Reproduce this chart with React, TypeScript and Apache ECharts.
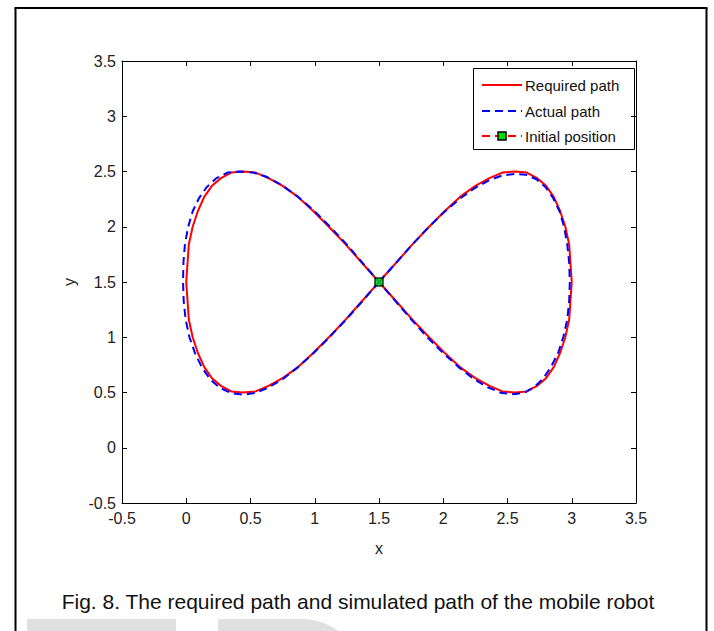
import React, { useEffect, useRef } from "react";
import * as echarts from "echarts";

// Axis range and ticks (both axes share the same scale)
const axisMin = -0.5;
const axisMax = 3.5;
const tickStep = 0.5;

// Required figure-eight path, [x, y]
const requiredPath: [number, number][] = [
  [1.5, 1.5], [1.63, 1.67], [1.76, 1.84], [1.89, 2.0], [2.01, 2.14], [2.13, 2.27],
  [2.25, 2.37], [2.36, 2.44], [2.46, 2.49], [2.56, 2.5], [2.65, 2.49], [2.73, 2.44],
  [2.8, 2.37], [2.86, 2.27], [2.91, 2.14], [2.95, 2.0], [2.98, 1.84], [2.99, 1.67],
  [3.0, 1.5], [2.99, 1.33], [2.98, 1.16], [2.95, 1.0], [2.91, 0.86], [2.86, 0.73],
  [2.8, 0.63], [2.73, 0.56], [2.65, 0.51], [2.56, 0.5], [2.46, 0.51], [2.36, 0.56],
  [2.25, 0.63], [2.13, 0.73], [2.01, 0.86], [1.89, 1.0], [1.76, 1.16], [1.63, 1.33],
  [1.5, 1.5], [1.37, 1.67], [1.24, 1.84], [1.11, 2.0], [0.99, 2.14], [0.87, 2.27],
  [0.75, 2.37], [0.64, 2.44], [0.54, 2.49], [0.44, 2.5], [0.35, 2.49], [0.27, 2.44],
  [0.2, 2.37], [0.14, 2.27], [0.09, 2.14], [0.05, 2.0], [0.02, 1.84], [0.01, 1.67],
  [0.0, 1.5], [0.01, 1.33], [0.02, 1.16], [0.05, 1.0], [0.09, 0.86], [0.14, 0.73],
  [0.2, 0.63], [0.27, 0.56], [0.35, 0.51], [0.44, 0.5], [0.54, 0.51], [0.64, 0.56],
  [0.75, 0.63], [0.87, 0.73], [0.99, 0.86], [1.11, 1.0], [1.24, 1.16], [1.37, 1.33],
  [1.5, 1.5],
];

// Actual path travelled by the robot, [x, y]
const actualPath: [number, number][] = [
  [1.5, 1.5], [1.63, 1.67], [1.76, 1.84], [1.885, 1.995], [2.01, 2.135], [2.13, 2.255],
  [2.245, 2.35], [2.355, 2.42], [2.46, 2.465], [2.555, 2.478], [2.645, 2.47], [2.725, 2.43],
  [2.795, 2.36], [2.855, 2.26], [2.905, 2.14], [2.94, 2.0], [2.965, 1.84], [2.98, 1.675],
  [2.985, 1.5], [2.98, 1.33], [2.965, 1.16], [2.935, 1.005], [2.895, 0.86], [2.84, 0.735],
  [2.78, 0.63], [2.71, 0.55], [2.635, 0.5], [2.55, 0.485], [2.455, 0.495], [2.35, 0.545],
  [2.24, 0.62], [2.125, 0.725], [2.005, 0.85], [1.88, 0.995], [1.755, 1.155], [1.63, 1.325],
  [1.5, 1.5], [1.37, 1.675], [1.245, 1.845], [1.115, 2.005], [0.99, 2.15], [0.865, 2.275],
  [0.745, 2.375], [0.63, 2.45], [0.52, 2.49], [0.415, 2.5], [0.32, 2.49], [0.235, 2.44],
  [0.16, 2.36], [0.1, 2.26], [0.05, 2.14], [0.015, 2.0], [-0.01, 1.845], [-0.022, 1.675],
  [-0.025, 1.5], [-0.02, 1.33], [-0.005, 1.16], [0.025, 1.0], [0.07, 0.85], [0.125, 0.72],
  [0.19, 0.615], [0.265, 0.54], [0.35, 0.495], [0.44, 0.48], [0.535, 0.495], [0.64, 0.545],
  [0.75, 0.62], [0.865, 0.725], [0.985, 0.85], [1.11, 0.995], [1.24, 1.155], [1.37, 1.325],
  [1.5, 1.5],
];

// Starting point of the robot
const initialPosition: [number, number][] = [[1.5, 1.5]];

const legendLabels = ["Required path", "Actual path", "Initial position"];
const captionText = "Fig. 8. The required path and simulated path of the mobile robot";

const RED = "#ff0000";
const BLUE = "#0000ff";
const GREEN = "#00e000";
const FONT = "'Liberation Sans', Arial, sans-serif";

export default function App() {
  const ref = useRef<HTMLDivElement>(null);

  useEffect(() => {
    if (!ref.current) return;
    const chart = echarts.init(ref.current, null, { renderer: "svg" });

    const baseAxis = {
      type: "value" as const,
      min: axisMin,
      max: axisMax,
      interval: tickStep,
      splitLine: { show: false },
      axisLine: { show: true, onZero: false, lineStyle: { color: "#000", width: 1 } },
      axisTick: { show: true, inside: true, length: 5, lineStyle: { color: "#000" } },
    };

    const label = { color: "#222", fontSize: 16, fontFamily: FONT };

    const legX = 473;
    const legY = 68;
    const rows = [85, 111, 136];

    chart.setOption({
      animation: false,
      backgroundColor: "#fff",
      grid: { left: 122, top: 61, width: 514, height: 442, containLabel: false },
      xAxis: [
        {
          ...baseAxis,
          position: "bottom",
          name: "x",
          nameLocation: "middle",
          nameGap: 37,
          nameTextStyle: { ...label },
          axisLabel: { ...label, margin: 7 },
        },
        { ...baseAxis, position: "top", axisLabel: { show: false } },
      ],
      yAxis: [
        {
          ...baseAxis,
          position: "left",
          name: "y",
          nameLocation: "middle",
          nameGap: 38,
          nameTextStyle: { ...label },
          axisLabel: { ...label, margin: 6 },
        },
        { ...baseAxis, position: "right", axisLabel: { show: false } },
      ],
      series: [
        {
          name: legendLabels[0],
          type: "line",
          data: requiredPath,
          smooth: false,
          showSymbol: false,
          lineStyle: { color: RED, width: 2, join: "round" },
          z: 2,
        },
        {
          name: legendLabels[1],
          type: "line",
          data: actualPath,
          smooth: false,
          showSymbol: false,
          lineStyle: { color: BLUE, width: 2, type: [8, 5], join: "round" },
          z: 3,
        },
        {
          name: legendLabels[2],
          type: "scatter",
          data: initialPosition,
          symbol: "rect",
          symbolSize: 8,
          itemStyle: { color: GREEN, borderColor: "#000", borderWidth: 1.5 },
          z: 4,
        },
      ],
      graphic: [
        // page frame
        { type: "line", shape: { x1: 15.5, y1: 8, x2: 15.5, y2: 631 }, style: { stroke: "#000", lineWidth: 2 } },
        { type: "line", shape: { x1: 14.5, y1: 8, x2: 707.5, y2: 8 }, style: { stroke: "#000", lineWidth: 2 } },
        { type: "line", shape: { x1: 706.5, y1: 8, x2: 706.5, y2: 631 }, style: { stroke: "#000", lineWidth: 2 } },
        // faint shapes along the bottom edge
        { type: "rect", shape: { x: 27, y: 619, width: 149, height: 20 }, style: { fill: "#e0e0e0" }, silent: true },
        { type: "rect", shape: { x: 218, y: 619, width: 146, height: 80, r: [0, 62, 0, 0] }, style: { fill: "#e0e0e0" }, silent: true },
        // caption
        {
          type: "text",
          x: 358,
          y: 601,
          style: { text: captionText, fill: "#111", font: `21px ${FONT}`, align: "center", verticalAlign: "middle" },
        },
        // legend
        {
          type: "group",
          z: 100,
          children: [
            { type: "rect", shape: { x: legX + 0.5, y: legY + 0.5, width: 161, height: 81 }, style: { fill: "#fff", stroke: "#000", lineWidth: 1 } },
            { type: "line", shape: { x1: 482, y1: rows[0], x2: 522, y2: rows[0] }, style: { stroke: RED, lineWidth: 2 } },
            { type: "line", shape: { x1: 482, y1: rows[1], x2: 522, y2: rows[1] }, style: { stroke: BLUE, lineWidth: 2, lineDash: [8, 5] } },
            { type: "line", shape: { x1: 482, y1: rows[2], x2: 522, y2: rows[2] }, style: { stroke: RED, lineWidth: 2, lineDash: [8, 5] } },
            { type: "rect", shape: { x: 498, y: rows[2] - 4, width: 8, height: 8 }, style: { fill: GREEN, stroke: "#000", lineWidth: 1.5 } },
            ...legendLabels.map((t, i) => ({
              type: "text",
              x: 525,
              y: rows[i],
              style: { text: t, fill: "#111", font: `15px ${FONT}`, verticalAlign: "middle" },
            })),
          ],
        },
      ],
    });

    return () => chart.dispose();
  }, []);

  return (
    <div
      ref={ref}
      style={{ position: "fixed", left: 0, top: 0, width: 714, height: 631, background: "#fff" }}
    />
  );
}
